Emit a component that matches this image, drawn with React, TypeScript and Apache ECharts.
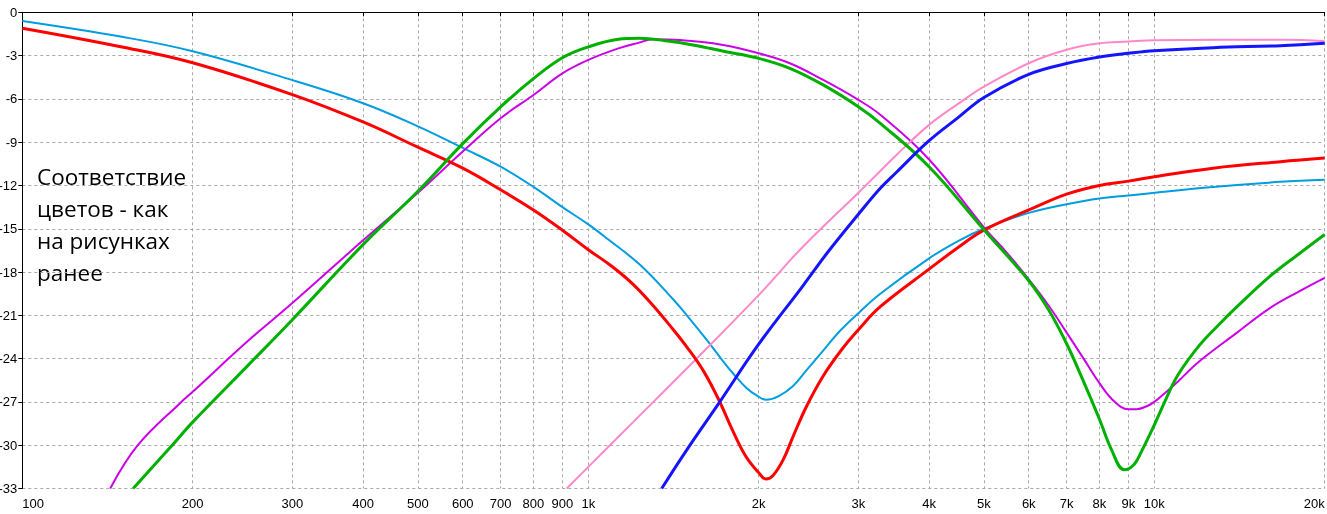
import React, { useEffect, useRef } from 'react';
import * as echarts from 'echarts';

const xTickFreqs = [100, 200, 300, 400, 500, 600, 700, 800, 900, 1000, 2000, 3000, 4000, 5000, 6000, 7000, 8000, 9000, 10000, 20000];

const redFreq = [100, 150, 200, 300, 400, 500, 600, 700, 800, 900, 1000, 1100, 1200, 1300, 1400, 1500, 1600, 1700, 1800, 1900, 2000, 2060, 2120, 2210, 2300, 2430, 2600, 2800, 3000, 3280, 4000, 4500, 5000, 6000, 7000, 8000, 9000, 10000, 12700, 16700, 20000];
const redDb = [-1.1, -2.4, -3.5, -5.7, -7.6, -9.35, -10.8, -12.3, -13.7, -15.1, -16.45, -17.6, -18.85, -20.3, -21.8, -23.3, -24.9, -26.85, -29.0, -30.8, -31.9, -32.35, -32.1, -31.0, -29.4, -27.3, -25.2, -23.4, -22.0, -20.4, -17.8, -16.3, -15.1, -13.7, -12.6, -12.0, -11.7, -11.4, -10.8, -10.35, -10.1];

const cyanFreq = [100, 150, 200, 300, 400, 500, 600, 700, 800, 900, 1000, 1085, 1234, 1413, 1493, 1619, 1732, 1804, 1905, 1984, 2060, 2170, 2300, 2430, 2600, 2780, 3000, 3280, 4000, 4500, 5000, 6000, 7000, 8000, 9000, 10000, 12700, 16700, 20000];
const cyanDb = [-0.6, -1.7, -2.7, -4.7, -6.3, -7.9, -9.4, -10.7, -12.1, -13.5, -14.7, -15.75, -17.5, -19.9, -21.0, -22.7, -24.2, -25.05, -26.05, -26.55, -26.85, -26.6, -25.9, -24.8, -23.45, -22.1, -20.85, -19.5, -17.05, -15.85, -15.0, -13.9, -13.3, -12.9, -12.7, -12.5, -12.1, -11.75, -11.6];

const greenFreq = [157, 184, 200, 250, 300, 400, 500, 600, 700, 800, 900, 1000, 1130, 1230, 1370, 1530, 1750, 2000, 2270, 2600, 3000, 3280, 4000, 5000, 6000, 6500, 7000, 7500, 8000, 8400, 8850, 9200, 9500, 10000, 10500, 11000, 12000, 13000, 14000, 16000, 18000, 20000];
const greenDb = [-33, -30, -28.4, -24.5, -21.3, -16.1, -12.4, -9.1, -6.55, -4.6, -3.15, -2.4, -1.87, -1.8, -1.97, -2.26, -2.73, -3.19, -3.88, -5.03, -6.54, -7.69, -10.7, -15.07, -18.6, -20.6, -22.97, -25.6, -28.2, -30.3, -31.7, -31.35, -30.4, -28.6, -26.75, -25.15, -23.1, -21.65, -20.4, -18.3, -16.75, -15.4];

const magentaFreq = [143, 160, 191, 200, 250, 300, 400, 500, 600, 700, 800, 900, 1000, 1130, 1230, 1300, 1450, 1730, 2000, 2270, 2600, 3000, 3280, 4000, 5000, 5500, 6000, 6500, 7000, 7500, 8000, 8500, 9000, 9300, 9700, 10000, 10500, 11000, 12000, 14000, 16000, 18000, 20000];
const magentaDb = [-33, -30, -27, -26.3, -22.8, -20.15, -15.8, -12.5, -9.65, -7.34, -5.73, -4.23, -3.3, -2.5, -2.1, -1.87, -1.92, -2.26, -2.84, -3.53, -4.69, -6.07, -7.1, -10.2, -14.9, -16.7, -18.5, -20.3, -22.2, -24.0, -25.7, -26.97, -27.5, -27.5, -27.3, -27.0, -26.3, -25.6, -24.2, -22.2, -20.5, -19.35, -18.4];

const pinkFreq = [916, 1000, 1200, 1500, 2000, 2380, 3000, 3280, 3500, 4000, 4500, 5000, 6000, 7000, 8000, 9000, 10000, 13000, 17000, 20000];
const pinkDb = [-33, -31.5, -28.4, -24.6, -19.6, -16.35, -12.5, -11.0, -9.9, -7.8, -6.35, -5.15, -3.53, -2.6, -2.15, -2.03, -1.94, -1.9, -1.9, -2.0];

const blueFreq = [1348, 1500, 1700, 2000, 2400, 2640, 3000, 3280, 3500, 4000, 4500, 5000, 6000, 7000, 8000, 9000, 10000, 12700, 16700, 20000];
const blueDb = [-33, -30.2, -27.1, -23.0, -18.9, -16.7, -14.0, -12.2, -11.1, -8.9, -7.3, -5.9, -4.3, -3.55, -3.1, -2.84, -2.66, -2.45, -2.31, -2.15];

const noteText = 'Соответствие\nцветов - как\nна рисунках\nранее';

const lg = (f: number) => Math.log10(f);

export default function App() {
  const ref = useRef<HTMLDivElement>(null);
  useEffect(() => {
    const chart = echarts.init(ref.current!, null, { renderer: 'svg' });
    const mk = (name: string, freq: number[], db: number[], color: string, width: number) => ({
      type: 'line',
      name,
      data: freq.map((f, i) => [lg(f), db[i]]),
      symbol: 'none',
      showSymbol: false,
      smooth: 0.4,
      clip: true,
      lineStyle: { color, width },
      itemStyle: { color },
      emphasis: { disabled: true },
    });
    const tickVals = xTickFreqs.map(lg);
    const axisFont = { fontFamily: '"Liberation Sans", Arial, sans-serif', fontSize: 13, color: '#000' };
    chart.setOption({
      animation: false,
      grid: { left: 22.3, right: 2.3, top: 12.3, bottom: 25.5, containLabel: false, outerBoundsMode: 'none' },
      xAxis: {
        type: 'value',
        min: 2,
        max: lg(20000),
        axisLine: { show: true, lineStyle: { color: '#000', width: 1 } },
        axisTick: { show: true, length: 4, customValues: tickVals, lineStyle: { color: '#000' } },
        axisLabel: {
          ...axisFont,
          margin: 8,
          customValues: tickVals,
          alignMinLabel: 'left',
          alignMaxLabel: 'right',
          formatter: (v: number) => {
            const f = Math.round(Math.pow(10, v));
            return f >= 1000 ? `${Math.round(f / 1000)}k` : `${f}`;
          },
        },
        splitLine: { show: true, lineStyle: { color: '#a8a8a8', type: [3, 3], width: 1 } },
      },
      yAxis: {
        type: 'value',
        min: -33,
        max: 0,
        interval: 3,
        axisLine: { show: true, lineStyle: { color: '#000', width: 1 } },
        axisTick: { show: true, length: 4, lineStyle: { color: '#000' } },
        axisLabel: { ...axisFont, margin: 5 },
        splitLine: { show: true, lineStyle: { color: '#a8a8a8', type: [3, 3], width: 1 } },
      },
      series: [
        mk('cyan', cyanFreq, cyanDb, '#009de0', 2),
        mk('magenta', magentaFreq, magentaDb, '#cc00e6', 2),
        mk('pink', pinkFreq, pinkDb, '#ff88c8', 2),
        mk('red', redFreq, redDb, '#ff0000', 3),
        mk('green', greenFreq, greenDb, '#00b000', 3),
        mk('blue', blueFreq, blueDb, '#1414ff', 3),
      ],
      graphic: [
        {
          type: 'text',
          left: 37,
          top: 160,
          style: {
            text: noteText,
            font: '22.5px "Open Sans", "Noto Sans", sans-serif',
            lineHeight: 32,
            fill: '#000',
          },
        },
      ],
    });
    return () => chart.dispose();
  }, []);
  return <div ref={ref} style={{ position: 'fixed', left: 0, top: 0, width: 1327, height: 514 }} />;
}
